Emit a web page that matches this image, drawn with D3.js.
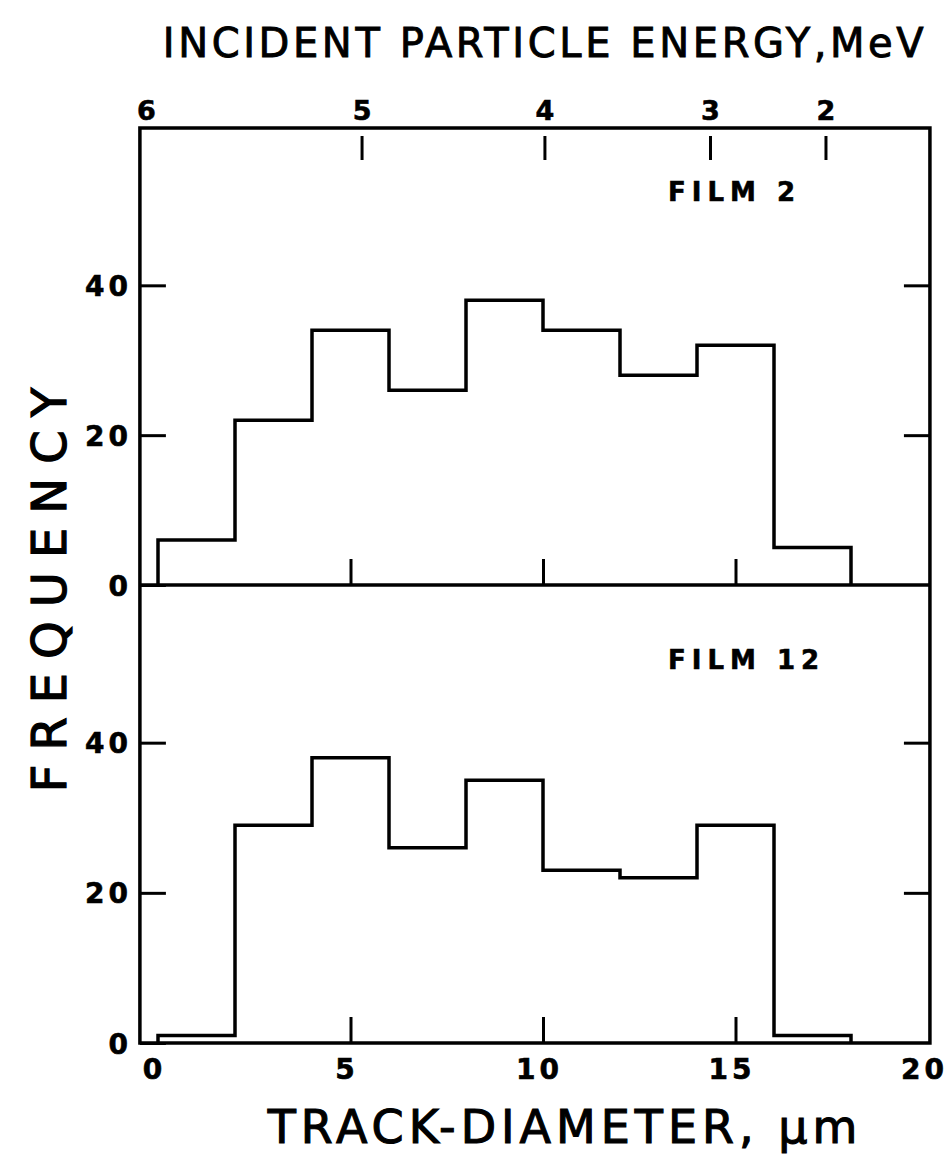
<!DOCTYPE html>
<html>
<head>
<meta charset="utf-8">
<script src="https://cdn.jsdelivr.net/npm/d3@7/dist/d3.min.js"></script>
<style>
  html, body { margin: 0; padding: 0; background: #fff; }
  svg text { fill: #000; font-family: "DejaVu Sans", sans-serif; }
</style>
</head>
<body>
<svg id="chart" width="951" height="1166"></svg>
<script>
// Left edges of the 2 µm track-diameter bins and the counts in each bin
const binStarts = [0, 2, 4, 6, 8, 10, 12, 14, 16];
const binWidth = 2;
const film2Counts = [6, 22, 34, 26, 38, 34, 28, 32, 5];
const film12Counts = [1, 29, 38, 26, 35, 23, 22, 29, 1];
const panelNames = ["FILM 2", "FILM 12"];

// Lower axis: track diameter
const diameterTicks = [0, 5, 10, 15, 20];
const frequencyTicks = [0, 20, 40];

// Upper axis: incident particle energy (MeV) placed at the matching diameter
const energyLabels = ["6", "5", "4", "3", "2"];
const energyAtDiameter = [-0.3, 5.3, 10.05, 14.35, 17.35];

const svg = d3.select("#chart");
const ink = "#000";

const x = d3.scaleLinear().domain([0, 20]).range([158, 928]);
const frameLeft = x(-0.47), frameRight = x(20.05);
const yMax = 61;
const panelTops = [128, 585];
const panelBottoms = [585, 1043];
const yScales = panelTops.map((t, i) => d3.scaleLinear().domain([0, yMax]).range([panelBottoms[i], t]));

// Outer frame and the shared divider
svg.append("rect")
  .attr("x", frameLeft).attr("y", panelTops[0])
  .attr("width", frameRight - frameLeft).attr("height", panelBottoms[1] - panelTops[0])
  .attr("fill", "none").attr("stroke", ink).attr("stroke-width", 3.5);
svg.append("line")
  .attr("x1", frameLeft).attr("x2", frameRight)
  .attr("y1", panelBottoms[0]).attr("y2", panelBottoms[0])
  .attr("stroke", ink).attr("stroke-width", 3.5);

function styleAxis(g) {
  g.select(".domain").remove();
  g.selectAll(".tick line").attr("stroke", ink).attr("stroke-width", 3);
  g.selectAll(".tick text")
    .style("font-family", "'DejaVu Sans', sans-serif")
    .style("font-weight", "bold")
    .style("font-size", "28px")
    .style("letter-spacing", "4px")
    .attr("stroke", ink).attr("stroke-width", 0.6);
}

[film2Counts, film12Counts].forEach((counts, i) => {
  const y = yScales[i];

  // Inward frequency ticks on the left (labelled) and right
  svg.append("g")
    .attr("transform", `translate(${frameLeft},0)`)
    .call(d3.axisLeft(y).tickValues(frequencyTicks).tickSizeInner(-26).tickSizeOuter(0).tickPadding(8).tickFormat(d3.format("d")))
    .call(styleAxis)
    .call(g => g.selectAll(".tick text").attr("dy", "0.36em"));
  svg.append("g")
    .attr("transform", `translate(${frameRight},0)`)
    .call(d3.axisRight(y).tickValues(frequencyTicks.filter(d => d > 0)).tickSizeInner(-26).tickSizeOuter(0).tickFormat(""))
    .call(styleAxis);

  // Inward diameter ticks along the bottom of each panel
  svg.append("g")
    .attr("transform", `translate(0,${panelBottoms[i]})`)
    .call(d3.axisBottom(x).tickValues([5, 10, 15]).tickSizeInner(-26).tickSizeOuter(0).tickFormat(""))
    .call(styleAxis);

  // Step outline of the histogram
  const pts = [[binStarts[0], 0]];
  counts.forEach((c, k) => {
    pts.push([binStarts[k], c]);
    pts.push([binStarts[k] + binWidth, c]);
  });
  pts.push([binStarts[counts.length - 1] + binWidth, 0]);
  svg.append("path")
    .attr("d", d3.line().x(d => x(d[0])).y(d => y(d[1]))(pts))
    .attr("fill", "none").attr("stroke", ink).attr("stroke-width", 3.5)
    .attr("stroke-linejoin", "miter");

  svg.append("text")
    .attr("x", 668).attr("y", panelTops[i] + 73 + (i === 1 ? 11 : 0))
    .attr("text-anchor", "start")
    .attr("stroke", ink).attr("stroke-width", 0.6)
    .style("font-weight", "bold").style("font-size", "26px").style("letter-spacing", "6px")
    .text(panelNames[i]);
});

// Bottom axis labels
svg.append("g")
  .attr("transform", `translate(0,${panelBottoms[1]})`)
  .call(d3.axisBottom(x).tickValues(diameterTicks).tickSize(0).tickPadding(16).tickFormat(d3.format("d")))
  .call(styleAxis)
  .call(g => g.selectAll(".tick text").attr("dy", "0.71em").attr("dx", -4));

// Top energy axis
const energy = svg.append("g").attr("transform", `translate(0,${panelTops[0]})`);
energyLabels.forEach((lab, k) => {
  const px = x(energyAtDiameter[k]);
  if (k > 0) {
    energy.append("line").attr("x1", px).attr("x2", px).attr("y1", 8).attr("y2", 32)
      .attr("stroke", ink).attr("stroke-width", 3);
  }
  energy.append("text").attr("x", px).attr("y", -8)
    .attr("text-anchor", "middle")
    .attr("stroke", ink).attr("stroke-width", 0.6)
    .style("font-weight", "bold").style("font-size", "27px")
    .text(lab);
});

// Titles
svg.append("text")
  .attr("x", 545).attr("y", 57)
  .attr("text-anchor", "middle")
  .attr("stroke", ink).attr("stroke-width", 0.9)
  .style("font-size", "40px").style("letter-spacing", "3.6px")
  .text("INCIDENT PARTICLE ENERGY,MeV");

svg.append("text")
  .attr("transform", `translate(66,583) rotate(-90)`)
  .attr("text-anchor", "middle")
  .attr("stroke", ink).attr("stroke-width", 1.2)
  .style("font-size", "48px").style("letter-spacing", "14px")
  .text("FREQUENCY");

svg.append("text")
  .attr("x", 565).attr("y", 1143)
  .attr("text-anchor", "middle")
  .attr("stroke", ink).attr("stroke-width", 1.1)
  .style("font-size", "46px").style("letter-spacing", "5px")
  .text("TRACK-DIAMETER, μm");
</script>
</body>
</html>
